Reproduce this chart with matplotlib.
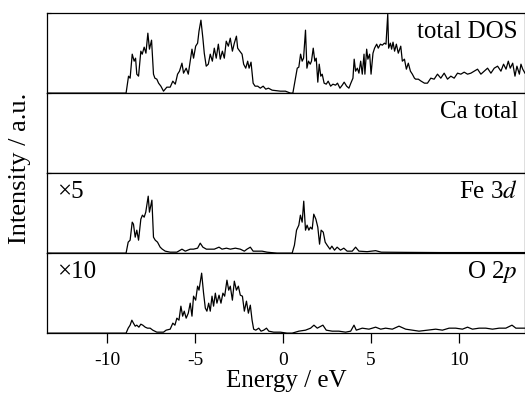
import numpy as np
import matplotlib
matplotlib.use("Agg")
import matplotlib.pyplot as plt

plt.rcParams['font.family'] = ['Liberation Serif', 'DejaVu Serif']
plt.rcParams['mathtext.fontset'] = 'stix'
plt.rcParams['axes.unicode_minus'] = False

# energies (eV) and intensities, read as heights in each panel (0..80)
tot_e = [-13.5, -8.92, -8.78, -8.69, -8.57, -8.46, -8.38, -8.31, -8.21, -8.08, -8.00, -7.89,
         -7.79, -7.68, -7.59, -7.47, -7.36, -7.28, -7.17, -7.07, -6.94, -6.79, -6.60, -6.41,
         -6.26, -6.12, -5.99, -5.88, -5.74, -5.65, -5.50, -5.38, -5.27, -5.17, -5.08, -4.96,
         -4.85, -4.77, -4.66, -4.55, -4.47, -4.36, -4.24, -4.13, -4.01, -3.90, -3.79, -3.67,
         -3.56, -3.44, -3.33, -3.22, -3.10, -2.99, -2.87, -2.76, -2.64, -2.57, -2.45, -2.32,
         -2.23, -2.11, -2.00, -1.92, -1.81, -1.69, -1.58, -1.43, -1.28, -1.12, -0.97, -0.82,
         -0.61, -0.14, 0.15, 0.44, 0.57, 0.72, 0.82, 0.91, 1.01, 1.10, 1.18, 1.29, 1.37, 1.46,
         1.56, 1.63, 1.73, 1.82, 1.90, 1.99, 2.07, 2.16, 2.24, 2.35, 2.47, 2.58, 2.72, 2.85,
         3.00, 3.11, 3.25, 3.38, 3.49, 3.63, 3.76, 3.87, 3.99, 4.06, 4.14, 4.24, 4.33, 4.43,
         4.52, 4.62, 4.67, 4.77, 4.84, 4.94, 5.02, 5.13, 5.22, 5.34, 5.43, 5.55, 5.66, 5.78,
         5.87, 5.97, 6.02, 6.12, 6.19, 6.27, 6.36, 6.46, 6.57, 6.71, 6.80, 6.92, 7.03, 7.14,
         7.26, 7.37, 7.49, 7.56, 7.71, 7.87, 8.06, 8.23, 8.42, 8.61, 8.80, 8.99, 9.18, 9.37,
         9.56, 9.75, 9.94, 10.13, 10.32, 10.51, 10.70, 10.89, 11.08, 11.27, 11.46, 11.65,
         11.84, 12.03, 12.22, 12.41, 12.56, 12.70, 12.83, 12.94, 13.08, 13.21, 13.32, 13.46,
         13.55, 13.65, 13.78]
tot_dos = [0, 0, 17, 15, 39, 32, 35, 19, 17, 42, 39, 46,
           40, 60, 44, 53, 19, 15, 14, 10, 7, 2, 6, 6,
           12, 9, 19, 22, 30, 20, 25, 19, 32, 44, 35, 47,
           50, 62, 73, 55, 40, 27, 29, 39, 32, 45, 35, 49,
           34, 42, 35, 52, 47, 55, 42, 50, 57, 45, 42, 39,
           29, 25, 32, 25, 31, 10, 7, 7, 5, 7, 4, 5,
           3, 2, 2, 0, 0, 15, 25, 26, 39, 32, 35, 63, 25, 32,
           29, 32, 45, 32, 35, 11, 29, 17, 19, 10, 9, 12, 7, 9,
           8, 10, 5, 8, 11, 7, 5, 10, 15, 34, 22, 25, 20, 32,
           19, 39, 19, 44, 34, 39, 19, 40, 45, 49, 45, 49, 48, 50,
           49, 79, 45, 50, 44, 51, 42, 49, 40, 47, 32, 34, 24, 30,
           22, 19, 15, 14, 14, 12, 10, 10, 15, 14, 19, 15, 20, 14,
           17, 15, 20, 19, 21, 19, 20, 22, 24, 19, 22, 25,
           20, 25, 27, 22, 29, 24, 32, 25, 30, 17, 27, 19,
           29, 24, 20]

fe_e = [-13.5, -8.92, -8.80, -8.69, -8.57, -8.50, -8.40, -8.31, -8.21, -8.08, -7.99, -7.89,
        -7.80, -7.66, -7.59, -7.45, -7.36, -7.26, -7.13, -6.98, -6.86, -6.69, -6.41, -6.03,
        -5.74, -5.55, -5.27, -5.08, -4.85, -4.70, -4.55, -4.35, -4.13, -3.90, -3.63, -3.46,
        -3.21, -2.99, -2.70, -2.42, -2.19, -2.04, -1.85, -1.69, -1.47, -1.18, -0.90, -0.33,
        0.53, 0.66, 0.78, 0.91, 1.00, 1.10, 1.19, 1.29, 1.38, 1.48, 1.57, 1.67, 1.76, 1.88,
        1.99, 2.09, 2.18, 2.30, 2.41, 2.52, 2.68, 2.79, 2.94, 3.09, 3.28, 3.47, 3.66, 3.95,
        4.14, 4.33, 4.80, 5.28, 5.60, 7.0, 9.0, 11.0, 13.8]
fe_dos = [0, 0, 11, 13, 31, 29, 16, 23, 13, 34, 38, 36,
          41, 57, 41, 53, 16, 13, 11, 6, 4, 2, 1, 1,
          4, 2, 4, 4, 5, 10, 6, 4, 4, 4, 6, 4,
          5, 4, 5, 4, 2, 4, 6, 2, 2, 2, 1, 0,
          0, 8, 23, 28, 38, 31, 52, 23, 28, 23, 26, 24, 39, 34,
          26, 9, 23, 21, 11, 8, 4, 7, 3, 6, 3, 5, 2, 2,
          6, 2, 1.5, 2.5, 1, 0.8, 0.6, 0.6, 0.6]

o_e = [-13.5, -8.92, -8.80, -8.69, -8.59, -8.50, -8.40, -8.31, -8.19, -8.08, -7.97, -7.83,
       -7.70, -7.55, -7.40, -7.17, -6.98, -6.79, -6.64, -6.41, -6.26, -6.14, -6.03, -5.91,
       -5.80, -5.70, -5.61, -5.50, -5.38, -5.27, -5.17, -5.08, -4.96, -4.85, -4.77, -4.62,
       -4.51, -4.41, -4.32, -4.22, -4.13, -4.03, -3.94, -3.84, -3.75, -3.63, -3.52, -3.41,
       -3.31, -3.18, -3.08, -2.99, -2.87, -2.76, -2.64, -2.53, -2.42, -2.30, -2.19, -2.07,
       -1.96, -1.85, -1.75, -1.66, -1.54, -1.37, -1.24, -1.09, -0.93, -0.80, -0.52, -0.14,
       0.24, 0.53, 0.91, 1.29, 1.58, 1.77, 1.96, 2.28, 2.47, 2.81, 3.19, 3.57, 3.86, 4.05,
       4.18, 4.52, 4.90, 5.28, 5.57, 5.85, 6.23, 6.61, 6.99, 7.37, 7.75, 8.23, 8.70, 9.08,
       9.46, 9.84, 10.22, 10.51, 10.79, 11.17, 11.55, 11.93, 12.31, 12.69, 13.04, 13.26,
       13.55, 13.83]
o_dos = [0, 0, 5, 8, 13, 10, 7, 8, 6, 9, 8, 6,
         5, 5, 3, 1, 1, 1, 3, 4, 10, 8, 15, 13,
         27, 17, 22, 15, 20, 30, 17, 37, 33, 47, 43, 60,
         40, 25, 22, 30, 22, 37, 27, 40, 30, 38, 30, 40,
         37, 53, 43, 47, 33, 52, 43, 47, 38, 37, 22, 32,
         20, 28, 13, 4, 3, 5, 2, 3, 5, 2, 1, 1,
         0, 0, 2, 3, 5, 8, 5, 8, 3, 2, 2, 1, 2, 8,
         3, 5, 4, 6, 4, 5, 4, 7, 4, 3, 2, 3, 4, 3,
         5, 5, 4, 6, 4, 5, 5, 4, 5, 5, 8, 5,
         5, 5]

labels = ["total DOS", "Ca total", r"Fe 3$d$", r"O 2$p$"]
factors = [None, None, "\u00d75", "\u00d710"]
series = [(tot_e, tot_dos), None, (fe_e, fe_dos), (o_e, o_dos)]

fig = plt.figure(figsize=(5.25, 3.99), dpi=100)
gs = fig.add_gridspec(4, 1, left=0.0895, right=1.0, top=0.967, bottom=0.165, hspace=0)
axes = [fig.add_subplot(gs[i]) for i in range(4)]

for i, ax in enumerate(axes):
    if series[i] is not None:
        ax.plot(series[i][0], series[i][1], color='black', lw=0.9)
    ax.set_xlim(-13.42, 13.78)
    ax.set_ylim(0, 80)
    # small inward tick at the top of each panel
    ax.set_yticks([80])
    ax.tick_params(axis='y', direction='in', length=3, width=0.8, labelleft=False)
    for s in ax.spines.values():
        s.set_linewidth(0.9)
    ax.text(0.985, 0.77, labels[i], transform=ax.transAxes, ha='right', va='center',
            fontsize=18)
    if factors[i]:
        ax.text(0.02, 0.77, factors[i], transform=ax.transAxes, ha='left', va='center',
                fontsize=18)
    if i < 3:
        ax.tick_params(axis='x', bottom=False, labelbottom=False)

axes[3].set_xticks([-10, -5, 0, 5, 10])
axes[3].tick_params(axis='x', direction='out', length=7.5, width=0.9, labelsize=14, pad=6)
axes[3].set_xlabel("Energy / eV", fontsize=18, labelpad=1)
fig.text(0.038, 0.577, "Intensity / a.u.", rotation=90, ha='center', va='center', fontsize=19)

fig.savefig("out.png", dpi=100)
